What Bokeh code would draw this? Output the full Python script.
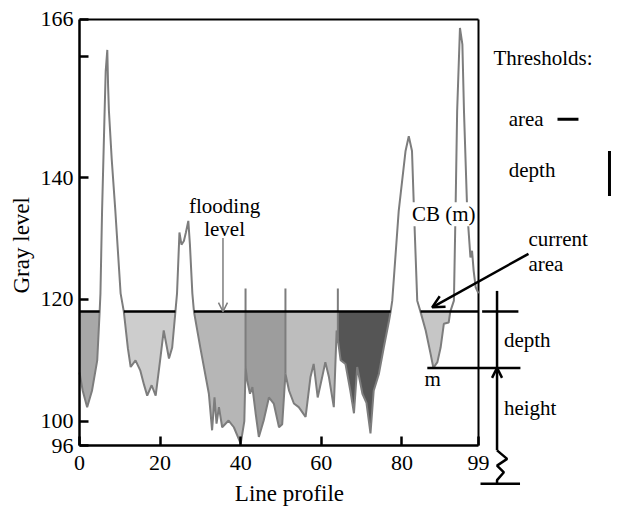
import numpy as np
from bokeh.plotting import figure
from bokeh.models import Range1d, FixedTicker, Label, OpenHead, Arrow
from bokeh.embed import file_html
from bokeh.resources import INLINE

# ---- data ----
line_x = [0, 0.8, 1.9, 3.1, 4.4, 5.0, 5.2, 5.6, 6.2, 6.5, 6.9, 7.1, 7.3, 8.0, 8.9, 10.2, 11.0,
          12.0, 12.7, 13.9, 15.1, 16.0, 16.8, 17.9, 18.9, 20.0, 20.9, 22.2, 23.0, 23.8,
          24.2, 24.8, 25.3, 25.9, 26.4, 27.0, 27.4, 28.0, 28.4,
          30.0, 32.1, 32.9, 33.5, 34.0, 34.6, 35.4, 37.0, 38.3, 40.0, 40.9, 41.2,
          41.6, 42.3, 42.9, 43.7, 44.5, 45.7, 47.0, 48.2, 49.5, 50.3, 51.1,
          52.0, 53.2, 54.4, 56.1, 57.3, 58.1, 59.1, 60.2, 61.0, 61.9, 63.1, 63.8,
          64.8, 66.0, 67.2, 68.1, 68.9, 70.2, 71.2, 72.2, 73.0, 74.3, 75.5, 76.8, 77.2,
          77.6, 79.2, 80.9, 81.7, 82.5, 83.0, 83.8, 84.6,
          85.9, 87.1, 87.8, 88.8, 89.6, 90.4, 91.6, 92.0,
          92.9, 93.3, 93.7, 94.4, 95.0, 95.4, 96.2, 97.0, 97.4, 97.8, 98.3, 99.0]
gray_level = [108, 105, 102.3, 105, 110, 118, 121, 134.5, 150, 157.5, 161, 155, 151, 143, 134.5, 121, 118,
              112, 108.9, 110, 108.3, 106, 104.2, 105.9, 104.2, 110, 114.9, 110.3, 112.1, 118,
              121, 131, 129, 129.6, 131, 132.9, 129, 121, 118,
              112, 104.5, 98.5, 103.9, 99.6, 102.3, 99, 100.1, 99, 96.3, 100, 108.9,
              106.7, 104.5, 105.6, 101.3, 97.4, 100.1, 103.9, 102.9, 99, 99.5, 107.8,
              105, 102.9, 102.3, 100.7, 107.2, 109.4, 103.9, 107.2, 109.7, 107.2, 102.3, 114.9,
              110, 109.4, 105, 101.3, 108.9, 104.5, 103, 98, 105, 107.8, 112.1, 116.5, 118,
              119.8, 134.5, 144.4, 146.8, 144.4, 134.5, 119.8, 118,
              114.9, 111.1, 108.75, 109.7, 112.1, 116, 116.2, 118,
              119.8, 134.5, 150.9, 164.6, 161.9, 150.9, 134.5, 126.9, 128, 124.7, 122, 121]

flood_level = 118
minimum_m = 108.75
basin_bounds = [(0, 5.0), (11.0, 23.8), (28.4, 41.2), (41.2, 51.1), (51.1, 64.1), (64.1, 77.2), (84.6, 92.0)]
basin_colors = ["#a8a8a8", "#cdcdcd", "#b6b6b6", "#9d9d9d", "#bdbdbd", "#555555", "#c6c6c6"]
separators = [41.2, 51.1, 64.1]
separator_top = 121.8
flood_segments = [(0, 5.0), (11.0, 23.8), (28.4, 77.2), (84.6, 99)]
x_min, x_max = 0, 99
y_min, y_max = 96, 166
x_ticks = [0, 20, 40, 60, 80, 99]
y_ticks = [96, 100, 120, 140, 160, 166]
x_title = "Line profile"
y_title = "Gray level"

FONT = "Liberation Serif"

# frame spans the whole canvas so that side notes are drawn too; axes sit at fixed locations
p = figure(width=616, height=510, output_backend="svg", toolbar_location=None,
           x_range=Range1d(-19.60, 133.24), y_range=Range1d(85.32, 169.12),
           min_border_left=0, min_border_right=0, min_border_top=0, min_border_bottom=0)
p.background_fill_color = "white"
p.border_fill_color = "white"
p.outline_line_color = None
p.grid.visible = False

p.xaxis.fixed_location = y_min
p.yaxis.fixed_location = x_min
p.xaxis.bounds = (x_min, x_max)
p.yaxis.bounds = (y_min, y_max)
p.xaxis.ticker = FixedTicker(ticks=x_ticks)
p.yaxis.ticker = FixedTicker(ticks=y_ticks)
p.yaxis.major_label_overrides = {160: ""}
for ax in (p.xaxis, p.yaxis):
    ax.major_tick_in = 9
    ax.major_tick_out = 0
    ax.minor_tick_line_color = None
    ax.major_tick_line_width = 2.5
    ax.axis_line_width = 2.5
    ax.major_label_text_font = FONT
    ax.major_label_text_font_size = "22px"
    ax.major_label_text_color = "black"
p.xaxis.major_label_standoff = 10
p.yaxis.major_label_standoff = 6

# top and right sides of the plot box
p.segment(x0=[x_min, x_max], y0=[y_max, y_min], x1=[x_max, x_max], y1=[y_max, y_max],
          line_color="black", line_width=2)

xs = np.array(line_x, dtype=float)
ys = np.array(gray_level, dtype=float)

# basins (filled below flooding level)
for (a, b), col in zip(basin_bounds, basin_colors):
    inner = xs[(xs > a) & (xs < b)]
    bx = np.concatenate([[a], inner, [b]])
    by = np.minimum(np.interp(bx, xs, ys), flood_level)
    p.varea(x=bx, y1=by, y2=flood_level, fill_color=col, fill_alpha=1)

# profile
p.line(xs, ys, line_color="#7d7d7d", line_width=2)

# region separators
for sx in separators:
    p.segment(x0=sx, y0=float(np.interp(sx, xs, ys)), x1=sx, y1=separator_top,
              line_color="#7d7d7d", line_width=2)

# flooding level
for a, b in flood_segments:
    p.segment(x0=a, y0=flood_level, x1=b, y1=flood_level, line_color="black", line_width=2.5)


def lab(text, x, y, align="left", bg=None, size="21px", angle=0.0):
    p.add_layout(Label(x=x, y=y, text=text, text_font=FONT, text_font_size=size,
                       text_color="black", text_align=align, text_baseline="middle",
                       background_fill_color=bg, angle=angle))


def seg(x0, y0, x1, y1, color="black", width=2.5):
    p.segment(x0=x0, y0=y0, x1=x1, y1=y1, line_color=color, line_width=width)


def arrow(x0, y0, x1, y1, color="black", width=2.5, size=10):
    p.add_layout(Arrow(x_start=x0, y_start=y0, x_end=x1, y_end=y1,
                       end=OpenHead(size=size, line_color=color, line_width=width),
                       line_color=color, line_width=width))


# axis titles
lab(x_title, 52.1, 88.1, "center", size="23px")
lab(y_title, -14.3, 128.9, "center", size="23px", angle=np.pi / 2)

# flooding level annotation
lab("flooding", 36.0, 135.4, "center", "white")
lab("level", 36.0, 131.6, "center", "white")
arrow(35.6, 130.1, 35.6, flood_level, color="#7d7d7d", width=1.5, size=9)

lab("CB (m)", 82.5, 134.0, "left", "white")
lab("m", 87.6, 106.9, "center")

# right-side notes
lab("Thresholds:", 102.7, 159.6)
lab("area", 106.5, 149.6)
seg(118.6, 149.6, 123.8, 149.6, width=3)
lab("depth", 106.5, 141.3)
seg(131.5, 144.4, 131.5, 137.0, width=3)
lab("current", 111.4, 130.0)
lab("area", 111.4, 125.9)
arrow(111.4, 127.5, 87.5, 118.7, size=12)

lab("depth", 105.3, 113.3)
lab("height", 105.3, 102.2)

# depth / height bracket
seg(99.9, flood_level, 108.9, flood_level)
seg(86.3, minimum_m, 109.4, minimum_m)
seg(103.6, 121.4, 103.6, minimum_m)
arrow(103.6, 95.2, 103.6, minimum_m, size=10)
p.line([103.6, 106.1, 103.6, 105.3, 103.6, 103.6], [95.2, 93.8, 92.7, 91.6, 90.3, 89.7],
       line_color="black", line_width=2.5)
seg(99.5, 89.7, 109.3, 89.7)

open("out.html", "w").write(file_html(p, INLINE))
